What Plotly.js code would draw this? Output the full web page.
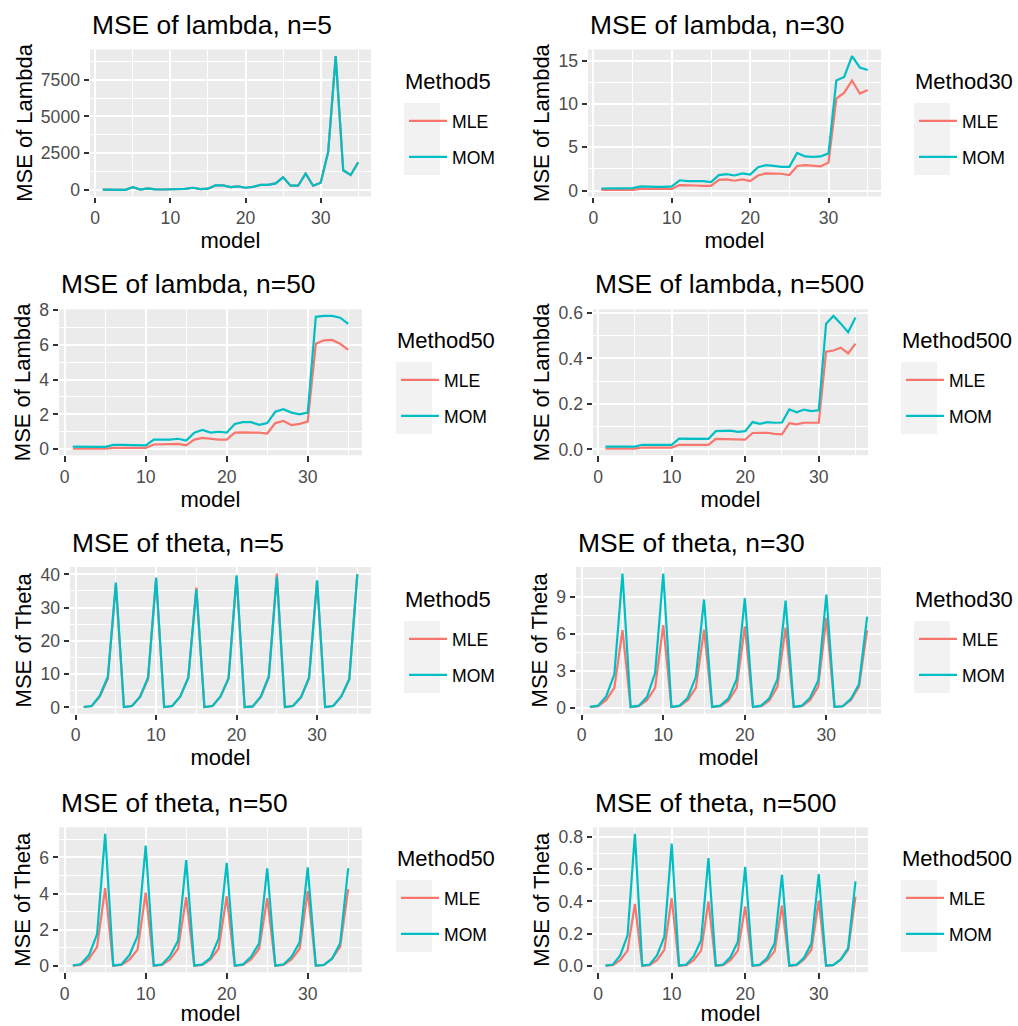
<!DOCTYPE html>
<html>
<head>
<meta charset="utf-8">
<script src="https://cdn.plot.ly/plotly-3.0.1.min.js"></script>
<style>html,body{margin:0;padding:0;background:#fff}</style>
</head>
<body>
<div id="chart" style="width:1018px;height:1026px"></div>
<script>
// ---------------- data ----------------
const model = [1,2,3,4,5,6,7,8,9,10,11,12,13,14,15,16,17,18,19,20,21,22,23,24,25,26,27,28,29,30,31,32,33,34,35];
const methods = ["MLE", "MOM"];

const lambda5_MLE = [10,5,5,0,180,20,100,30,20,30,60,60,140,50,80,300,300,180,230,140,200,340,340,440,850,280,280,1100,280,480,2570,9100,1330,1010,1880];
const lambda5_MOM = [10,5,5,0,180,20,100,30,20,30,60,60,140,50,80,300,300,180,230,140,200,340,340,440,850,280,280,1100,280,480,2570,9100,1330,1010,1880];

const lambda30_MLE = [0.1,0.1,0.1,0.1,0.1,0.2,0.2,0.2,0.2,0.2,0.65,0.65,0.6,0.55,0.55,1.25,1.3,1.15,1.3,1.1,1.75,2.0,1.95,1.95,1.8,2.85,2.95,2.9,2.8,3.25,10.6,11.3,12.7,11.2,11.6];
const lambda30_MOM = [0.25,0.25,0.25,0.25,0.3,0.5,0.45,0.45,0.45,0.5,1.2,1.1,1.1,1.1,1.0,1.8,1.9,1.75,2.0,1.85,2.7,2.95,2.85,2.75,2.75,4.35,3.95,3.9,3.95,4.3,12.7,13.1,15.5,14.2,13.9];

const lambda50_MLE = [0.03,0.03,0.03,0.03,0.03,0.08,0.08,0.08,0.08,0.08,0.27,0.27,0.27,0.3,0.22,0.55,0.65,0.58,0.55,0.55,0.95,0.97,0.98,0.95,0.9,1.5,1.62,1.38,1.45,1.58,6.05,6.25,6.27,6.05,5.7];
const lambda50_MOM = [0.15,0.13,0.13,0.13,0.13,0.25,0.25,0.24,0.22,0.22,0.55,0.55,0.55,0.6,0.5,0.95,1.1,0.95,1.0,0.95,1.45,1.55,1.55,1.4,1.5,2.15,2.3,2.1,2.0,2.1,7.6,7.65,7.65,7.55,7.2];

const lambda500_MLE = [0.003,0.003,0.003,0.003,0.003,0.008,0.008,0.008,0.008,0.008,0.02,0.02,0.02,0.02,0.02,0.046,0.046,0.043,0.043,0.043,0.072,0.073,0.073,0.068,0.066,0.115,0.11,0.117,0.118,0.117,0.43,0.435,0.447,0.422,0.465];
const lambda500_MOM = [0.012,0.012,0.012,0.012,0.012,0.02,0.02,0.02,0.02,0.02,0.047,0.046,0.046,0.046,0.046,0.08,0.08,0.082,0.077,0.08,0.12,0.112,0.12,0.117,0.118,0.176,0.163,0.175,0.168,0.172,0.553,0.587,0.553,0.515,0.58];

const theta5_MLE = [0.1,0.4,3.2,8.6,37.0,0.1,0.4,3.1,8.5,38.5,0.1,0.4,3.2,8.8,36.0,0.1,0.4,3.2,8.6,39.3,0.1,0.3,3.1,9.0,40.2,0.1,0.4,3.0,8.7,38.0,0.1,0.4,3.2,8.4,40.1];
const theta5_MOM = [0.1,0.4,3.5,9.2,37.5,0.1,0.4,3.2,9.0,39.0,0.1,0.4,3.3,9.0,35.5,0.1,0.4,3.3,8.8,39.7,0.1,0.3,3.2,9.3,39.3,0.1,0.4,3.1,8.9,38.2,0.1,0.4,3.3,8.5,40.0];

const theta30_MLE = [0.04,0.1,0.6,1.6,6.3,0.04,0.1,0.6,1.6,6.7,0.04,0.1,0.6,1.6,6.35,0.04,0.1,0.55,1.6,6.6,0.04,0.1,0.55,1.7,6.5,0.04,0.1,0.6,1.7,7.3,0.04,0.1,0.6,1.7,6.3];
const theta30_MOM = [0.05,0.15,0.9,2.7,10.9,0.05,0.15,0.85,2.8,10.9,0.05,0.15,0.8,2.5,8.8,0.05,0.15,0.75,2.3,8.9,0.05,0.15,0.75,2.3,8.7,0.05,0.15,0.8,2.2,9.2,0.05,0.1,0.7,1.9,7.4];

const theta50_MLE = [0.01,0.05,0.4,1.05,4.3,0.01,0.05,0.35,0.9,4.05,0.01,0.05,0.35,0.95,3.8,0.01,0.05,0.35,0.95,3.85,0.01,0.05,0.35,0.95,3.75,0.01,0.05,0.35,0.95,4.15,0.01,0.05,0.4,1.05,4.25];
const theta50_MOM = [0.02,0.1,0.6,1.75,7.3,0.02,0.08,0.6,1.65,6.65,0.02,0.08,0.55,1.4,5.85,0.02,0.08,0.45,1.5,5.7,0.02,0.08,0.5,1.25,5.4,0.02,0.08,0.5,1.3,5.45,0.02,0.05,0.4,1.25,5.4];

const theta500_MLE = [0.001,0.005,0.035,0.095,0.385,0.001,0.005,0.035,0.1,0.42,0.001,0.005,0.035,0.095,0.4,0.001,0.005,0.035,0.095,0.37,0.001,0.005,0.035,0.09,0.375,0.001,0.005,0.04,0.1,0.405,0.001,0.005,0.04,0.1,0.43];
const theta500_MOM = [0.002,0.008,0.065,0.19,0.82,0.002,0.008,0.065,0.18,0.76,0.002,0.008,0.06,0.16,0.67,0.002,0.008,0.055,0.15,0.615,0.002,0.008,0.05,0.14,0.565,0.002,0.008,0.05,0.14,0.57,0.002,0.006,0.04,0.11,0.525];

const panelTitles = ["MSE of lambda, n=5","MSE of lambda, n=30","MSE of lambda, n=50","MSE of lambda, n=500",
                     "MSE of theta, n=5","MSE of theta, n=30","MSE of theta, n=50","MSE of theta, n=500"];
const yTitles = ["MSE of Lambda","MSE of Lambda","MSE of Lambda","MSE of Lambda",
                 "MSE of Theta","MSE of Theta","MSE of Theta","MSE of Theta"];
const legendTitles = ["Method5","Method30","Method50","Method500","Method5","Method30","Method50","Method500"];
const xTitle = "model";
const xTicks = [0,10,20,30];
const yTickSteps = [2500,5,2,0.2,10,3,2,0.2];

const seriesMLE = [lambda5_MLE,lambda30_MLE,lambda50_MLE,lambda500_MLE,theta5_MLE,theta30_MLE,theta50_MLE,theta500_MLE];
const seriesMOM = [lambda5_MOM,lambda30_MOM,lambda50_MOM,lambda500_MOM,theta5_MOM,theta30_MOM,theta50_MOM,theta500_MOM];

// ---------------- layout / style ----------------
const W = 1018, H = 1026;
const COLORS = {MLE: "#F8766D", MOM: "#00BFC4"};
const FONT = "Liberation Sans, Arial, Helvetica, sans-serif";
// panel boxes in pixels [left, right, top, bottom]
const boxes = [
  [90, 371, 49.5, 196.5], [588, 881, 49.5, 196.5],
  [59, 362, 309.3, 455.3], [593, 868, 309.3, 455.3],
  [70, 371, 567, 713.7], [576, 881, 567, 713.7],
  [59, 362, 827.3, 972.3], [593, 868, 827.3, 972.3]
];
const titleY = [25, 25, 283.5, 283.5, 542.5, 542.5, 802.5, 802.5];
// legend key block [left, top]
const keyPos = [[404,103],[914,103],[396,362],[901,362],[404,621],[914,621],[396,880],[901,880]];
const yTickFmt = ["d","","",".1f","","","",".1f"];

const traces = [];
const layout = {
  width: W, height: H,
  margin: {l:0, r:0, t:0, b:0},
  paper_bgcolor: "white",
  plot_bgcolor: "#EBEBEB",
  font: {family: FONT, color: "black"},
  hovermode: false,
  showlegend: true,
  annotations: [],
  shapes: []
};

function ext(a, b) {
  const all = a.concat(b);
  const mn = Math.min(...all), mx = Math.max(...all);
  const pad = (mx - mn) * 0.05;
  return [mn - pad, mx + pad];
}
const xMin = Math.min(...model), xMax = Math.max(...model);
const xPad = (xMax - xMin) * 0.05;

for (let i = 0; i < 8; i++) {
  const n = i + 1;
  const xs = n === 1 ? "" : String(n);
  const legKey = n === 1 ? "legend" : "legend" + n;
  const [l, r, t, b] = boxes[i];
  methods.forEach((m) => {
    traces.push({
      type: "scatter", mode: "lines",
      x: model, y: (m === "MLE" ? seriesMLE : seriesMOM)[i],
      name: m, legend: legKey, legendgroup: "g" + n + m,
      xaxis: "x" + xs, yaxis: "y" + xs,
      line: {color: COLORS[m], width: 2.2}
    });
  });
  const common = {
    ticks: "outside", ticklen: 5.5, tickwidth: 2, tickcolor: "#333333",
    tickfont: {size: 17.6, color: "#4D4D4D", family: FONT},
    showgrid: true, gridcolor: "white", gridwidth: 2,
    zeroline: false, showline: false, fixedrange: true, automargin: false
  };
  layout["xaxis" + xs] = Object.assign({}, common, {
    domain: [l / W, r / W], anchor: "y" + xs,
    range: [xMin - xPad, xMax + xPad], autorange: false,
    tickmode: "array", tickvals: xTicks,
    minor: {tickmode: "linear", tick0: 0, dtick: 5, showgrid: true, gridcolor: "white", gridwidth: 1, ticks: ""},
    title: {text: xTitle, font: {size: 22, color: "black", family: FONT}, standoff: 1}
  });
  const yr = ext(seriesMLE[i], seriesMOM[i]);
  layout["yaxis" + xs] = Object.assign({}, common, {
    domain: [1 - b / H, 1 - t / H], anchor: "x" + xs,
    range: yr, autorange: false,
    tickmode: "linear", tick0: 0, dtick: yTickSteps[i],
    tickformat: yTickFmt[i],
    minor: {tickmode: "linear", tick0: 0, dtick: yTickSteps[i] / 2, showgrid: true, gridcolor: "white", gridwidth: 1, ticks: ""},
    title: {text: yTitles[i], font: {size: 22, color: "black", family: FONT}, standoff: 2}
  });
  // panel title
  layout.annotations.push({
    text: panelTitles[i], xref: "paper", yref: "paper",
    x: l / W, y: 1 - titleY[i] / H, xanchor: "left", yanchor: "middle",
    showarrow: false, font: {size: 26.4, color: "black", family: FONT}
  });
  // legend
  const [kx, ky] = keyPos[i];
  layout[legKey] = {
    x: kx / W, y: 1 - ky / H,
    xanchor: "left", yanchor: "top",
    bgcolor: "rgba(0,0,0,0)", borderwidth: 0,
    orientation: "v", tracegroupgap: 10, itemwidth: 38,
    font: {size: 17.6, color: "black", family: FONT},
    itemclick: false, itemdoubleclick: false
  };
  // legend title
  layout.annotations.push({
    text: legendTitles[i], xref: "paper", yref: "paper",
    x: (kx - 1) / W, y: 1 - (ky - 21.5) / H, xanchor: "left", yanchor: "middle",
    showarrow: false, font: {size: 22, color: "black", family: FONT}
  });
  // legend key background
  layout.shapes.push({
    type: "rect", xref: "paper", yref: "paper", layer: "below",
    x0: kx / W, x1: (kx + 36) / W, y0: 1 - ky / H, y1: 1 - (ky + 72) / H,
    fillcolor: "#F2F2F2", line: {width: 0}
  });
}

Plotly.newPlot("chart", traces, layout, {displayModeBar: false, staticPlot: true});
</script>
</body>
</html>
